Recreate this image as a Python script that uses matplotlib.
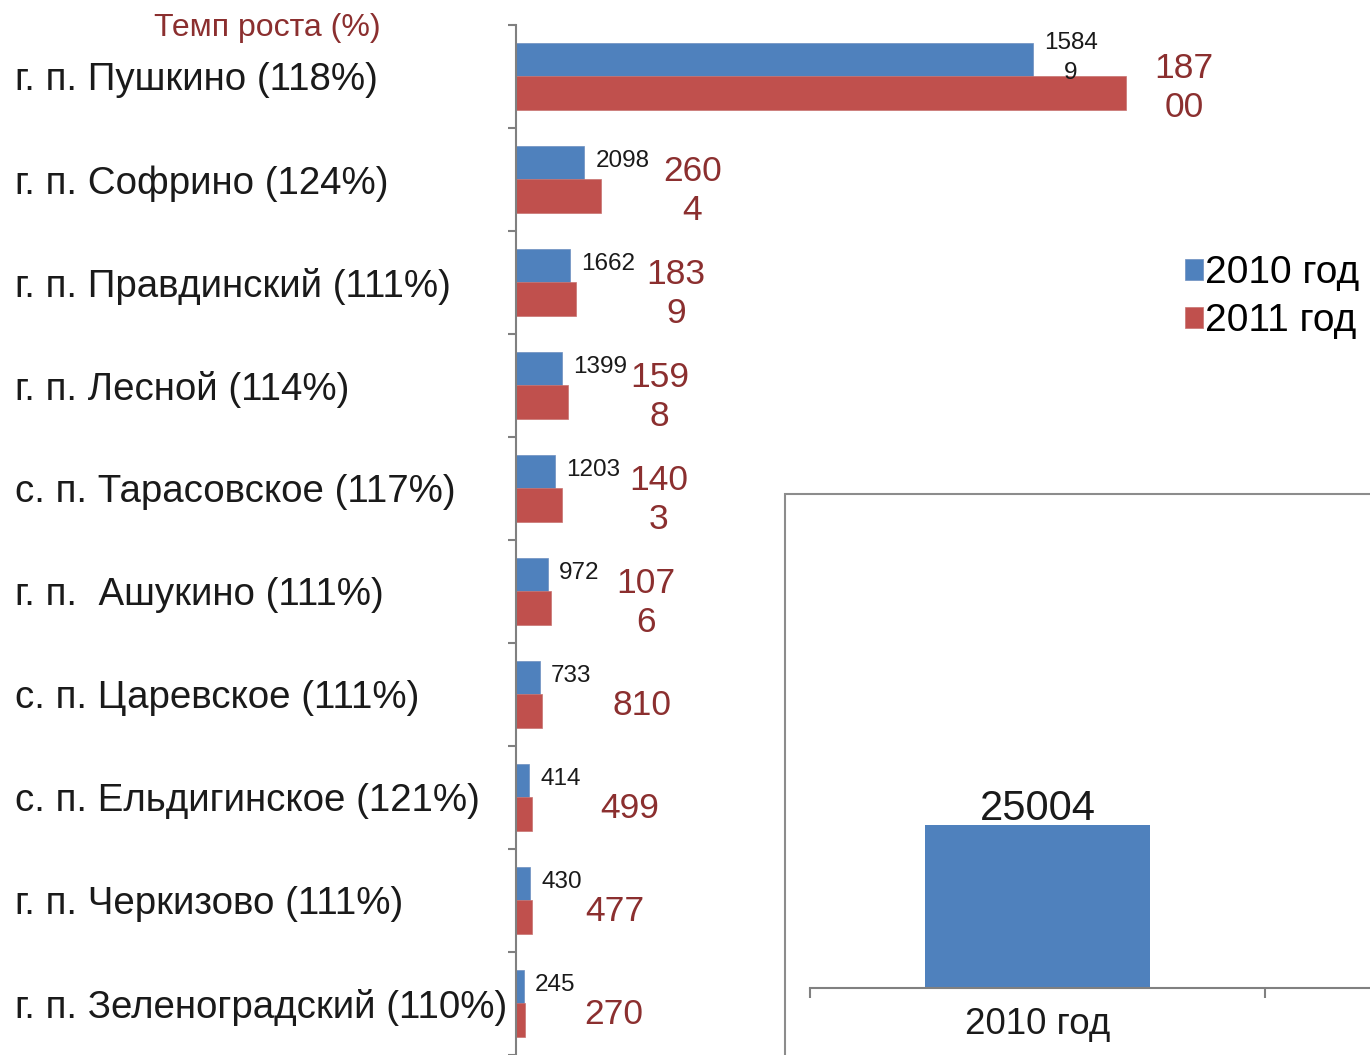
import matplotlib
matplotlib.use('Agg')
import matplotlib.pyplot as plt
import numpy as np
from matplotlib.patches import Rectangle

plt.rcParams['font.family'] = ['Liberation Sans', 'DejaVu Sans']

# Данные по поселениям
poseleniya = ['г. п. Пушкино (118%)', 'г. п. Софрино (124%)', 'г. п. Правдинский (111%)',
              'г. п. Лесной (114%)', 'с. п. Тарасовское (117%)', 'г. п.  Ашукино (111%)',
              'с. п. Царевское (111%)', 'с. п. Ельдигинское (121%)', 'г. п. Черкизово (111%)',
              'г. п. Зеленоградский (110%)']
znach_2010 = [15849, 2098, 1662, 1399, 1203, 972, 733, 414, 430, 245]
znach_2011 = [18700, 2604, 1839, 1598, 1403, 1076, 810, 499, 477, 270]
# подписи так, как они переносятся на картинке
podpisi_2010 = ['1584\n9', '2098', '1662', '1399', '1203', '972', '733', '414', '430', '245']
podpisi_2011 = ['187\n00', '260\n4', '183\n9', '159\n8', '140\n3', '107\n6', '810', '499', '477', '270']
serii = ['2010 год', '2011 год']

itog_kategorii = ['2010 год']
itog_znach = [25004]

SINIY = '#4F81BD'
KRASNY = '#C0504D'
TEMNO_KR = '#8B2F2F'

W, H = 1370, 1055
fig = plt.figure(figsize=(W / 100, H / 100), dpi=100)

ax = fig.add_axes([516 / W, 0, 815 / W, 1030 / H])
ax.set_facecolor('none')
y = np.arange(len(poseleniya))
h = 0.33
b1 = ax.barh(y - h / 2, znach_2010, height=h, color=SINIY, edgecolor='#6d8fbf', linewidth=0.5, label=serii[0])
b2 = ax.barh(y + h / 2, znach_2011, height=h, color=KRASNY, edgecolor='#c77370', linewidth=0.5, label=serii[1])
ax.set_xlim(0, 25000)
ax.set_ylim(len(poseleniya) - 0.5, -0.5)

for spine in ['top', 'right', 'bottom']:
    ax.spines[spine].set_visible(False)
ax.spines['left'].set_color('#808080')
ax.spines['left'].set_linewidth(1.5)
ax.set_xticks([])
ax.set_yticks(np.arange(len(poseleniya) + 1) - 0.5)
ax.set_yticklabels([])
ax.tick_params(axis='y', which='major', length=6, width=1.5, color='#808080')
ax.set_yticks(y, minor=True)
ax.set_yticklabels(poseleniya, minor=True, fontsize=27.7, ha='left', color='#1a1a1a')
ax.tick_params(axis='y', which='minor', length=0, pad=361)

# подписи значений
sdvig_2011 = [42, 66, 72, 66, 70, 68, 72, 70, 60, 64]
for i in range(len(poseleniya)):
    ax.annotate(podpisi_2010[i], (znach_2010[i], y[i] - h / 2), xytext=(8, 1),
                textcoords='offset points', ha='left', va='center',
                multialignment='center', fontsize=17.5, color='#1a1a1a', linespacing=1.45)
    ax.annotate(podpisi_2011[i], (znach_2011[i], y[i] + h / 2), xytext=(sdvig_2011[i], 4),
                textcoords='offset points', ha='center', va='center',
                multialignment='center', fontsize=25.5, color=TEMNO_KR, linespacing=1.22)

fig.text(267 / W, 1 - 28 / H, 'Темп роста (%)', fontsize=23, color=TEMNO_KR,
         ha='center', va='center')

fig.legend(handles=[b1, b2], loc='upper left', bbox_to_anchor=(1166 / W, 1 - 236 / H),
           frameon=False, fontsize=28, handlelength=0.45, handleheight=0.45,
           handletextpad=0.06, labelspacing=0.3, borderpad=0)

# вставка с итогом
fig.add_artist(Rectangle((785 / W, -0.1), 1, (H - 494) / H + 0.1, transform=fig.transFigure,
                         facecolor='white', edgecolor='#8c8c8c', linewidth=1.5, zorder=5))
ax2 = fig.add_axes([810 / W, 67 / H, 910 / W, 468 / H], zorder=6)
ax2.set_facecolor('none')
ax2.bar(np.arange(len(itog_kategorii)), itog_znach, width=0.495, color=SINIY)
ax2.set_xlim(-0.5, 1.5)
ax2.set_ylim(0, 72000)
for spine in ['top', 'right', 'left']:
    ax2.spines[spine].set_visible(False)
ax2.spines['bottom'].set_color('#808080')
ax2.spines['bottom'].set_linewidth(1.5)
ax2.set_yticks([])
ax2.set_xticks([-0.5, 0.5, 1.5])
ax2.set_xticklabels([])
ax2.tick_params(axis='x', which='major', length=7, width=1.5, color='#808080')
ax2.set_xticks(np.arange(len(itog_kategorii)), minor=True)
ax2.set_xticklabels(itog_kategorii, minor=True, fontsize=26.5, color='#1a1a1a')
ax2.tick_params(axis='x', which='minor', length=0, pad=14)
for xi, v in zip(np.arange(len(itog_kategorii)), itog_znach):
    ax2.text(xi, v - 500, str(v), ha='center', va='bottom', fontsize=30, color='#1a1a1a')

fig.savefig('out.png', dpi=100)
